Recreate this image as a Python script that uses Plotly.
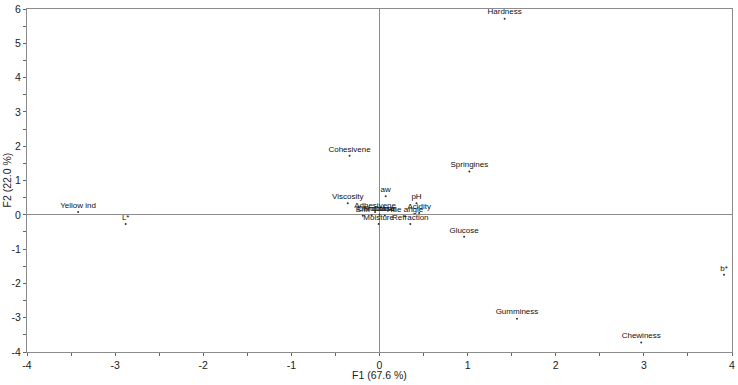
import plotly.graph_objects as go

labels = ["Hardness", "Cohesivene", "Springines", "Viscosity", "aw", "pH",
          "Acidity", "Hue angle", "Refraction", "Moisture", "Adhesivene",
          "Brix", "Chroma", "Fructose", "Colour", "Glucose", "Yellow ind",
          "L*", "b*", "Gumminess", "Chewiness"]
f1 = [1.42, -0.34, 1.02, -0.36, 0.07, 0.42,
      0.45, 0.29, 0.35, -0.01, -0.05,
      -0.19, -0.09, 0.0, 0.06, 0.96, -3.42,
      -2.88, 3.91, 1.56, 2.97]
f2 = [5.72, 1.72, 1.26, 0.34, 0.54, 0.34,
      0.05, -0.04, -0.27, -0.27, 0.08,
      -0.03, -0.01, 0.0, -0.02, -0.64, 0.08,
      -0.27, -1.75, -3.03, -3.72]

x_ticks = [-4, -3, -2, -1, 0, 1, 2, 3, 4]
x_tick_text = ["-4", "-3", "-2", "-1", "0", "1", "2", "3", "4"]
y_ticks = [-4, -3, -2, -1, 0, 1, 2, 3, 4, 5, 6]
y_tick_text = ["-4", "-3", "-2", "-1", "0", "1", "2", "3", "4", "5", "6"]

font_family = "Liberation Sans, Arial, sans-serif"

fig = go.Figure()
fig.add_trace(go.Scatter(
    x=f1, y=f2, mode="markers+text", text=labels,
    textposition="top center",
    textfont=dict(family=font_family, size=8, color="#111111"),
    marker=dict(size=2, color="#333333"),
    cliponaxis=False, hoverinfo="skip", showlegend=False,
))

axis_common = dict(
    showgrid=False, showline=True, linecolor="#8c8c8c", linewidth=1,
    mirror=True, ticks="outside", ticklen=3, tickcolor="#666666",
    zeroline=True, zerolinecolor="#8c8c8c", zerolinewidth=1.3,
    ticklabeloverflow="allow",
    tickfont=dict(family=font_family, size=10.5, color="#222222"),
    minor=dict(dtick=0.5, ticks="outside", ticklen=3, tickcolor="#666666"),
)

fig.update_layout(
    width=738, height=385,
    margin=dict(l=27, r=3, t=6, b=33),
    paper_bgcolor="white", plot_bgcolor="white",
    xaxis=dict(range=[-4, 4], tickvals=x_ticks, ticktext=x_tick_text, **axis_common),
    yaxis=dict(range=[-4, 6.002], tickvals=y_ticks, ticktext=y_tick_text, **axis_common),
    annotations=[
        dict(text="F1 (67.6 %)", xref="paper", yref="paper", x=0.5, y=0,
             yshift=-15, xanchor="center", yanchor="top", showarrow=False,
             font=dict(family=font_family, size=10.5, color="#222222")),
        dict(text="F2 (22.0 %)", xref="paper", yref="paper", x=0, y=0.5,
             xshift=-13, xanchor="right", yanchor="middle", textangle=-90,
             showarrow=False,
             font=dict(family=font_family, size=10.5, color="#222222")),
    ],
)

fig.write_html("out.html", config={"displayModeBar": False},
               post_script="document.body.style.margin='0';document.body.style.overflow='hidden';")
